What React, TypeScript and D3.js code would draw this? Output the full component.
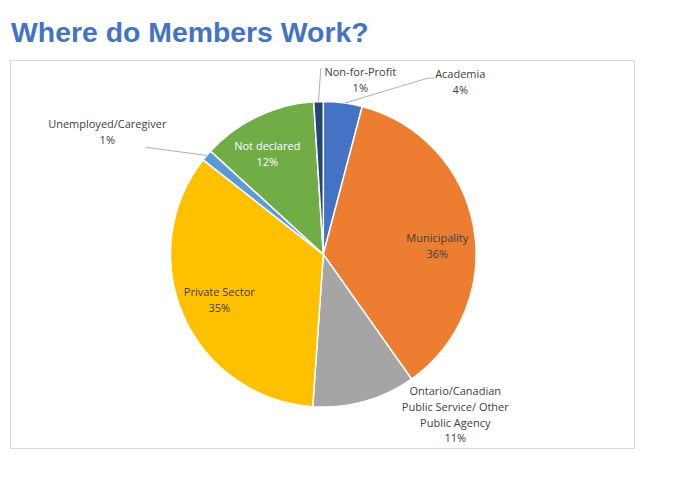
import React from "react";
import * as d3 from "d3";

const categories = [
  "Academia",
  "Municipality",
  "Ontario/Canadian Public Service/ Other Public Agency",
  "Private Sector",
  "Unemployed/Caregiver",
  "Not declared",
  "Non-for-Profit",
];
const values = [4.1, 36.1, 10.9, 34.5, 1.2, 12.2, 1.0];
const labelLines = [
  ["Academia"],
  ["Municipality"],
  ["Ontario/Canadian", "Public Service/ Other", "Public Agency"],
  ["Private Sector"],
  ["Unemployed/Caregiver"],
  ["Not declared"],
  ["Non-for-Profit"],
];
const title = "Where do Members Work?";

// layout / style (not data)
const colors = ["#4472C4", "#ED7D31", "#A5A5A5", "#FFC000", "#5B9BD5", "#70AD47", "#264478"];
const textColors = ["#404040", "#404040", "#404040", "#404040", "#404040", "#ffffff", "#404040"];
// label centre of first line, offset from pie centre
const labelOffsets: [number, number][] = [
  [137, -180],
  [114, -16],
  [132, 137],
  [-104, 38],
  [-216, -130],
  [-56, -108],
  [37, -182],
];
// leader lines: [slice-edge radius factor point, elbow, end] as offsets from centre (null = none)
const leaderEnds: ([number, number][] | null)[] = [
  [[104, -176], [111, -176]],
  null,
  null,
  null,
  null,
  null,
  null,
];

const W = 682;
const H = 486;
const cx = 323.3;
const cy = 254.3;
const R = 152.8;
const font = "'Open Sans', 'Noto Sans', sans-serif";
const fs = 11;
const lineH = 15.7;

export default function App() {
  const total = d3.sum(values);
  const pie = d3.pie<number>().sort(null).value((d) => d)(values);
  const arc = d3.arc<d3.PieArcDatum<number>>().innerRadius(0).outerRadius(R);

  const polar = (angle: number, r: number): [number, number] => [
    cx + r * Math.sin(angle),
    cy - r * Math.cos(angle),
  ];

  return (
    <svg
      width={W}
      height={H}
      style={{ position: "absolute", left: 0, top: 0, background: "#fff" }}
    >
      <text
        x={11}
        y={41.5}
        fontFamily="'Liberation Sans', Arial, sans-serif"
        fontWeight="bold"
        fontSize={28.4}
        fill="#4472C4"
      >
        {title}
      </text>
      <rect x={10.5} y={60.5} width={624} height={388} fill="#fff" stroke="#d9d9d9" strokeWidth={1} />
      <g transform={`translate(${cx},${cy})`}>
        {pie.map((p, i) => (
          <path key={categories[i]} d={arc(p) || ""} fill={colors[i]} stroke="#fff" strokeWidth={1.5} />
        ))}
      </g>
      {/* leader lines */}
      {pie.map((p, i) => {
        const mid = (p.startAngle + p.endAngle) / 2;
        let pts: [number, number][] | null = null;
        if (i === 0) {
          pts = [polar(p.startAngle + (p.endAngle - p.startAngle) * 0.55, R), [cx + 104, cy - 176], [cx + 111, cy - 176.3]];
        } else if (i === 6) {
          pts = [polar(mid, R), [cx - 2.5, cy - 186]];
        } else if (i === 4) {
          pts = [polar(mid, R), [cx - 178, cy - 107]];
        }
        if (!pts) return null;
        return (
          <polyline
            key={"l" + i}
            points={pts.map((q) => q.join(",")).join(" ")}
            fill="none"
            stroke="#a6a6a6"
            strokeWidth={0.9}
          />
        );
      })}
      {labelLines.map((lines, i) => {
        const [ox, oy] = labelOffsets[i];
        const pct = Math.round((values[i] / total) * 100) + "%";
        const all = [...lines, pct];
        return (
          <text
            key={"t" + i}
            textAnchor="middle"
            fontFamily={font}
            fontSize={fs}
            fill={textColors[i]}
          >
            {all.map((s, j) => (
              <tspan key={j} x={cx + ox} y={cy + oy + j * lineH + 4}>
                {s}
              </tspan>
            ))}
          </text>
        );
      })}
    </svg>
  );
}
